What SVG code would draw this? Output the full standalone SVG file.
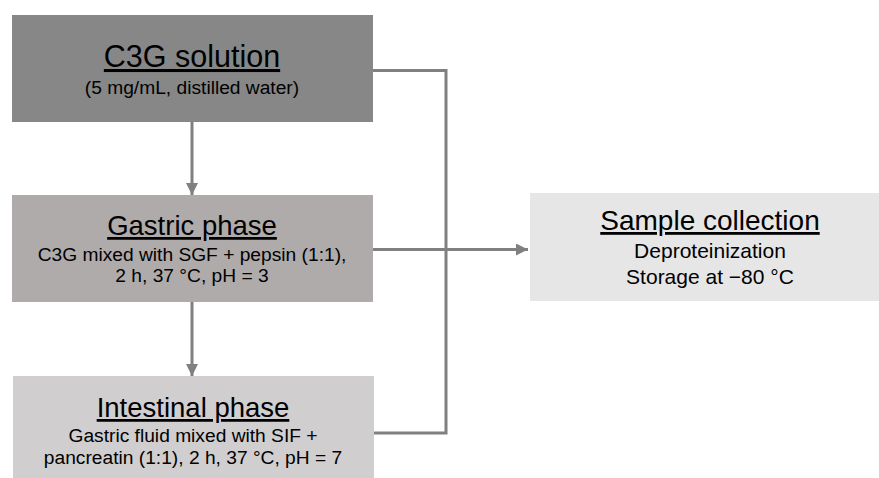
<svg xmlns="http://www.w3.org/2000/svg" width="879" height="478" viewBox="0 0 879 478">
<defs>
<style>
text{font-family:"Liberation Sans",Arial,sans-serif;fill:#000;text-anchor:middle}
.t{font-size:27.5px;text-decoration:underline}
.s{font-size:19.2px}
.c{fill:none;stroke:#808080;stroke-width:3}
</style>
<marker id="ah" viewBox="0 0 10 10" refX="10" refY="5" markerWidth="4" markerHeight="4" markerUnits="strokeWidth" orient="auto">
<path d="M0,0L10,5L0,10z" fill="#808080"/>
</marker>
</defs>
<rect width="879" height="478" fill="#fff"/>
<g id="connectors">
<path class="c" d="M192,122V195" marker-end="url(#ah)"/>
<path class="c" d="M192,302V376" marker-end="url(#ah)"/>
<path class="c" d="M373,70.5H446V433H374"/>
<path class="c" d="M373,249.5H528" marker-end="url(#ah)"/>
</g>
<g id="c3g">
<rect x="12" y="15" width="361" height="107" fill="#878787"/>
<text class="t" x="192" y="67" style="font-size:30.5px">C3G solution</text>
<text class="s" x="192" y="94">(5 mg/mL, distilled water)</text>
</g>
<g id="gastric">
<rect x="12" y="195" width="361" height="107" fill="#afabab"/>
<text class="t" x="192" y="235">Gastric phase</text>
<text class="s" x="192" y="261">C3G mixed with SGF + pepsin (1:1),</text>
<text class="s" x="192" y="282">2 h, 37 °C, pH = 3</text>
</g>
<g id="intestinal">
<rect x="13" y="376" width="361" height="102" fill="#d0cece"/>
<text class="t" x="193" y="417">Intestinal phase</text>
<text class="s" x="193" y="442">Gastric fluid mixed with SIF +</text>
<text class="s" x="193" y="464">pancreatin (1:1), 2 h, 37 °C, pH = 7</text>
</g>
<g id="sample">
<rect x="530" y="193" width="349" height="108" fill="#e6e6e6"/>
<text class="t" x="710" y="230" style="font-size:28px">Sample collection</text>
<text class="s" x="710" y="258" style="font-size:21px">Deproteinization</text>
<text class="s" x="710" y="284" style="font-size:21px">Storage at −80 °C</text>
</g>
</svg>
